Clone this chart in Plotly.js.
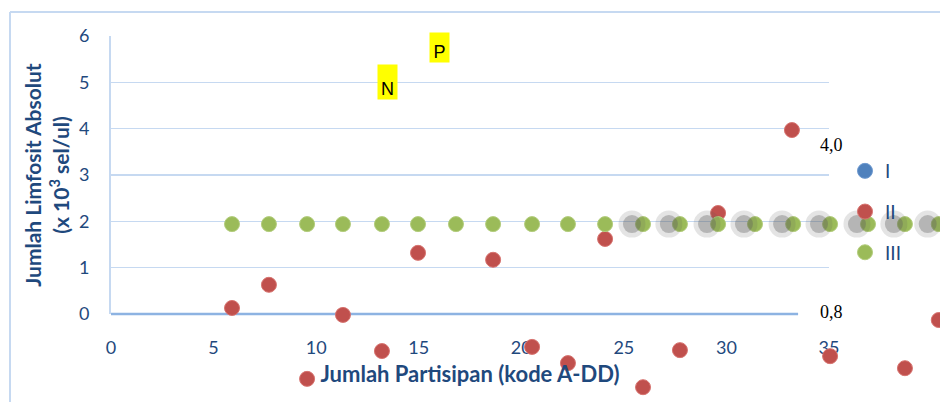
<!DOCTYPE html>
<html><head><meta charset="utf-8">
<script src="https://cdn.plot.ly/plotly-3.0.1.min.js"></script>
<style>body{margin:0;background:#fff}#chart{width:940px;height:402px}</style>
</head><body><div id="chart"></div>
<script>
// Series II (red)
const xII = [5.90, 7.70, 9.56, 11.31, 13.21, 14.97, 18.63, 20.53, 22.28, 24.09, 25.94, 27.74, 29.60, 33.20, 35.06, 38.71, 40.36];
const yII = [0.13, 0.63, -1.40, -0.02, -0.80, 1.32, 1.17, -0.71, -1.06, 1.62, -1.58, -0.78, 2.18, 3.97, -0.91, -1.17, -0.13];
// Series III (green)
const xIII = [5.90, 7.70, 9.56, 11.31, 13.21, 14.97, 16.82, 18.63, 20.53, 22.28, 24.09, 25.94, 27.74, 29.60, 31.40, 33.26, 35.06, 36.91, 38.71, 40.36];
const yIII = [1.94, 1.94, 1.94, 1.94, 1.94, 1.94, 1.94, 1.94, 1.94, 1.94, 1.94, 1.94, 1.94, 1.94, 1.94, 1.94, 1.94, 1.94, 1.94, 1.94];
// Series I (blue) - shown in the legend only
const xI = [null];
const yI = [null];
const xTicks = [0, 5, 10, 15, 20, 25, 30, 35];
const yTicks = [0, 1, 2, 3, 4, 5, 6];
const seriesNames = ['I', 'II', 'III'];
const labelTexts = ['N', 'P'];
const labelX = [13.48, 16.02];
const labelY = [5.01, 5.75];
const sideTexts = ['4,0', '0,8'];
const sideX = [34.47, 34.47];
const sideY = [3.65, 0.04];

const navy = '#1F497D';
const shX = [], shY = [];
xIII.forEach((x, i) => { if (x > 25) { shX.push(x); shY.push(yIII[i]); } });

const traces = [
  // anchor trace so the visible axes (x / y) are drawn
  {x: xI, y: yI, xaxis: 'x', yaxis: 'y', type: 'scatter', mode: 'markers', showlegend: false, hoverinfo: 'skip'},
  {x: shX, y: shY, xaxis: 'x3', yaxis: 'y2', type: 'scatter', mode: 'markers', showlegend: false, hoverinfo: 'skip', cliponaxis: false,
   marker: {size: 27, color: 'rgba(90,90,90,0.16)', line: {width: 0}}},
  {x: shX, y: shY, xaxis: 'x3', yaxis: 'y2', type: 'scatter', mode: 'markers', showlegend: false, hoverinfo: 'skip', cliponaxis: false,
   marker: {size: 18, color: 'rgba(90,90,90,0.34)', line: {width: 0}}},
  {x: xI, y: yI, name: seriesNames[0], xaxis: 'x2', yaxis: 'y2', type: 'scatter', mode: 'markers', legendgroup: 'a', cliponaxis: false,
   marker: {size: 15, color: '#4F81BD', line: {width: 1, color: '#6F9AD0'}}},
  {x: xII, y: yII, name: seriesNames[1], xaxis: 'x2', yaxis: 'y2', type: 'scatter', mode: 'markers', legendgroup: 'b', cliponaxis: false,
   marker: {size: 15, color: '#C0504D', line: {width: 1, color: '#D7736F'}}},
  {x: xIII, y: yIII, name: seriesNames[2], xaxis: 'x2', yaxis: 'y2', type: 'scatter', mode: 'markers', legendgroup: 'c', cliponaxis: false,
   marker: {size: 15, color: '#9BBB59', line: {width: 1, color: '#B3CD7D'}}}
];

const annotations = [];
labelTexts.forEach((t, i) => annotations.push({
  x: labelX[i], y: labelY[i], xref: 'x2', yref: 'y2', text: t, showarrow: false,
  bgcolor: '#FFFF00', width: 19, height: i === 0 ? 34 : 29, valign: 'bottom', borderpad: 0,
  font: {family: 'Liberation Sans, Arial', size: 18, color: '#000'}
}));
sideTexts.forEach((t, i) => annotations.push({
  x: sideX[i], y: sideY[i], xref: 'x2', yref: 'y2', text: t, showarrow: false, xanchor: 'left',
  font: {family: 'Liberation Serif, Times New Roman', size: 18, color: '#000'}
}));

const layout = {
  width: 940, height: 402,
  margin: {l: 111, r: 0, t: 36, b: 0},
  paper_bgcolor: '#fff', plot_bgcolor: 'rgba(0,0,0,0)',
  font: {family: 'Lato, Open Sans, sans-serif', color: navy},
  xaxis: {domain: [0, 718 / 829], range: [0, 35], tickvals: xTicks, showgrid: false, zeroline: false,
    showline: false, ticks: 'outside', ticklen: 17, tickcolor: 'rgba(0,0,0,0)',
    tickfont: {size: 18, color: navy}, anchor: 'y',
    title: {text: '<b>Jumlah Partisipan (kode A-DD)</b>', font: {size: 22, color: navy}, standoff: 10}},
  yaxis: {domain: [88 / 366, 1], range: [0, 6], tickvals: yTicks, showgrid: true, gridcolor: '#C6D9F1', gridwidth: 1.5,
    zeroline: false,
    showline: true, linecolor: '#C6D9F1', linewidth: 2, anchor: 'x',
    ticks: 'outside', ticklen: 16, tickcolor: 'rgba(0,0,0,0)',
    tickfont: {size: 18, color: navy},
    title: {text: '<b>Jumlah Limfosit Absolut<br>(x 10<sup>3</sup> sel/ul)</b>', font: {size: 21, color: navy}, standoff: 4}},
  xaxis2: {domain: [0, 1], range: [0, 829 / 20.51], visible: false, anchor: 'y2'},
  yaxis2: {domain: [0, 1], range: [-88 / 46.33, 6], visible: false, anchor: 'x2'},
  xaxis3: {range: [0.54, 829 / 20.51 + 0.54], overlaying: 'x2', visible: false, anchor: 'y2'},
  showlegend: true,
  legend: {x: (845 - 111) / 829, y: (402 - 152) / 366, xanchor: 'left', yanchor: 'top', tracegroupgap: 13,
    font: {size: 19, color: navy}, bgcolor: 'rgba(0,0,0,0)', traceorder: 'grouped'},
  annotations: annotations,
  shapes: [
    {type: 'line', xref: 'x2', yref: 'y2', x0: 0, x1: 33.5, y0: 0, y1: 0, layer: 'between', line: {color: '#8DB3E2', width: 2.5}},
    {type: 'line', xref: 'paper', yref: 'paper', x0: -101 / 829, x1: 1, y0: 390 / 366, y1: 390 / 366, line: {color: '#C6D9F1', width: 2}},
    {type: 'line', xref: 'paper', yref: 'paper', x0: -101 / 829, x1: -101 / 829, y0: 390 / 366, y1: 0, line: {color: '#C6D9F1', width: 2}}
  ]
};
Plotly.newPlot('chart', traces, layout, {staticPlot: true});
</script></body></html>
